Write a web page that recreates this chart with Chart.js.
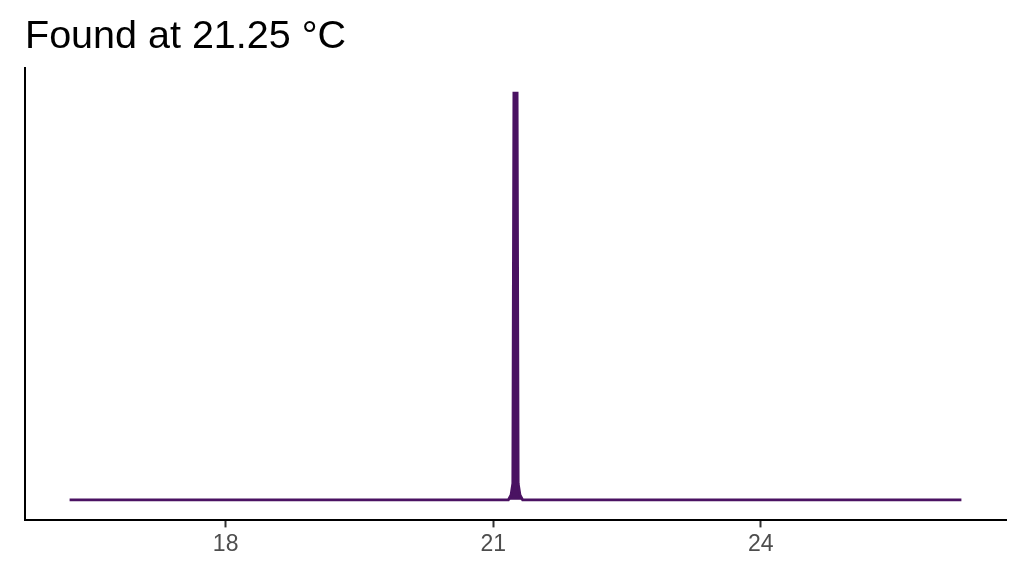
<!DOCTYPE html>
<html>
<head>
<meta charset="utf-8">
<script src="https://cdn.jsdelivr.net/npm/chart.js"></script>
<style>
  html, body { margin: 0; padding: 0; background: #fff; }
  #wrap { width: 1024px; height: 576px; }
</style>
</head>
<body>
<div id="wrap"><canvas id="meltChart"></canvas></div>
<script>
// == Data ==
const titleText = "Found at 21.25 °C";
const temps = [16.25, 21.17, 21.2, 21.22, 21.232, 21.268, 21.28, 21.3, 21.33, 26.25];
const signal = [0, 0, 0.012, 0.04, 0.99, 0.99, 0.04, 0.012, 0, 0];
const xTicks = [18, 21, 24];
const xRange = [15.75, 26.75];
const yRange = [-0.05, 1.05];

const lineColor = "#4a1262";

const points = temps.map((t, i) => ({ x: t, y: signal[i] }));

const ctx = document.getElementById("meltChart").getContext("2d");
new Chart(ctx, {
  type: "line",
  data: {
    datasets: [{
      data: points,
      borderColor: lineColor,
      backgroundColor: lineColor,
      borderWidth: 2.8,
      fill: "origin",
      pointRadius: 0,
      tension: 0
    }]
  },
  options: {
    responsive: true,
    maintainAspectRatio: false,
    animation: false,
    layout: { padding: { left: 25, right: 18, top: 11, bottom: 15 } },
    plugins: {
      legend: { display: false },
      tooltip: { enabled: false },
      title: {
        display: true,
        text: titleText,
        align: "start",
        color: "#000",
        font: { family: "Liberation Sans, Arial, sans-serif", size: 39.5, weight: "normal" },
        padding: { top: 2, bottom: 8 }
      }
    },
    scales: {
      x: {
        type: "linear",
        min: xRange[0],
        max: xRange[1],
        afterBuildTicks: (axis) => { axis.ticks = xTicks.map(v => ({ value: v })); },
        ticks: {
          color: "#4d4d4d",
          font: { family: "Liberation Sans, Arial, sans-serif", size: 23 },
          padding: 3,
          maxRotation: 0
        },
        grid: {
          display: true,
          drawOnChartArea: false,
          drawTicks: true,
          tickLength: 7,
          tickWidth: 2,
          tickColor: "#333"
        },
        border: { display: true, color: "#000", width: 2 }
      },
      y: {
        min: yRange[0],
        max: yRange[1],
        afterFit: (scale) => { scale.width = 0; },
        ticks: { display: false },
        grid: { display: false },
        border: { display: true, color: "#000", width: 2 }
      }
    }
  }
});
</script>
</body>
</html>
